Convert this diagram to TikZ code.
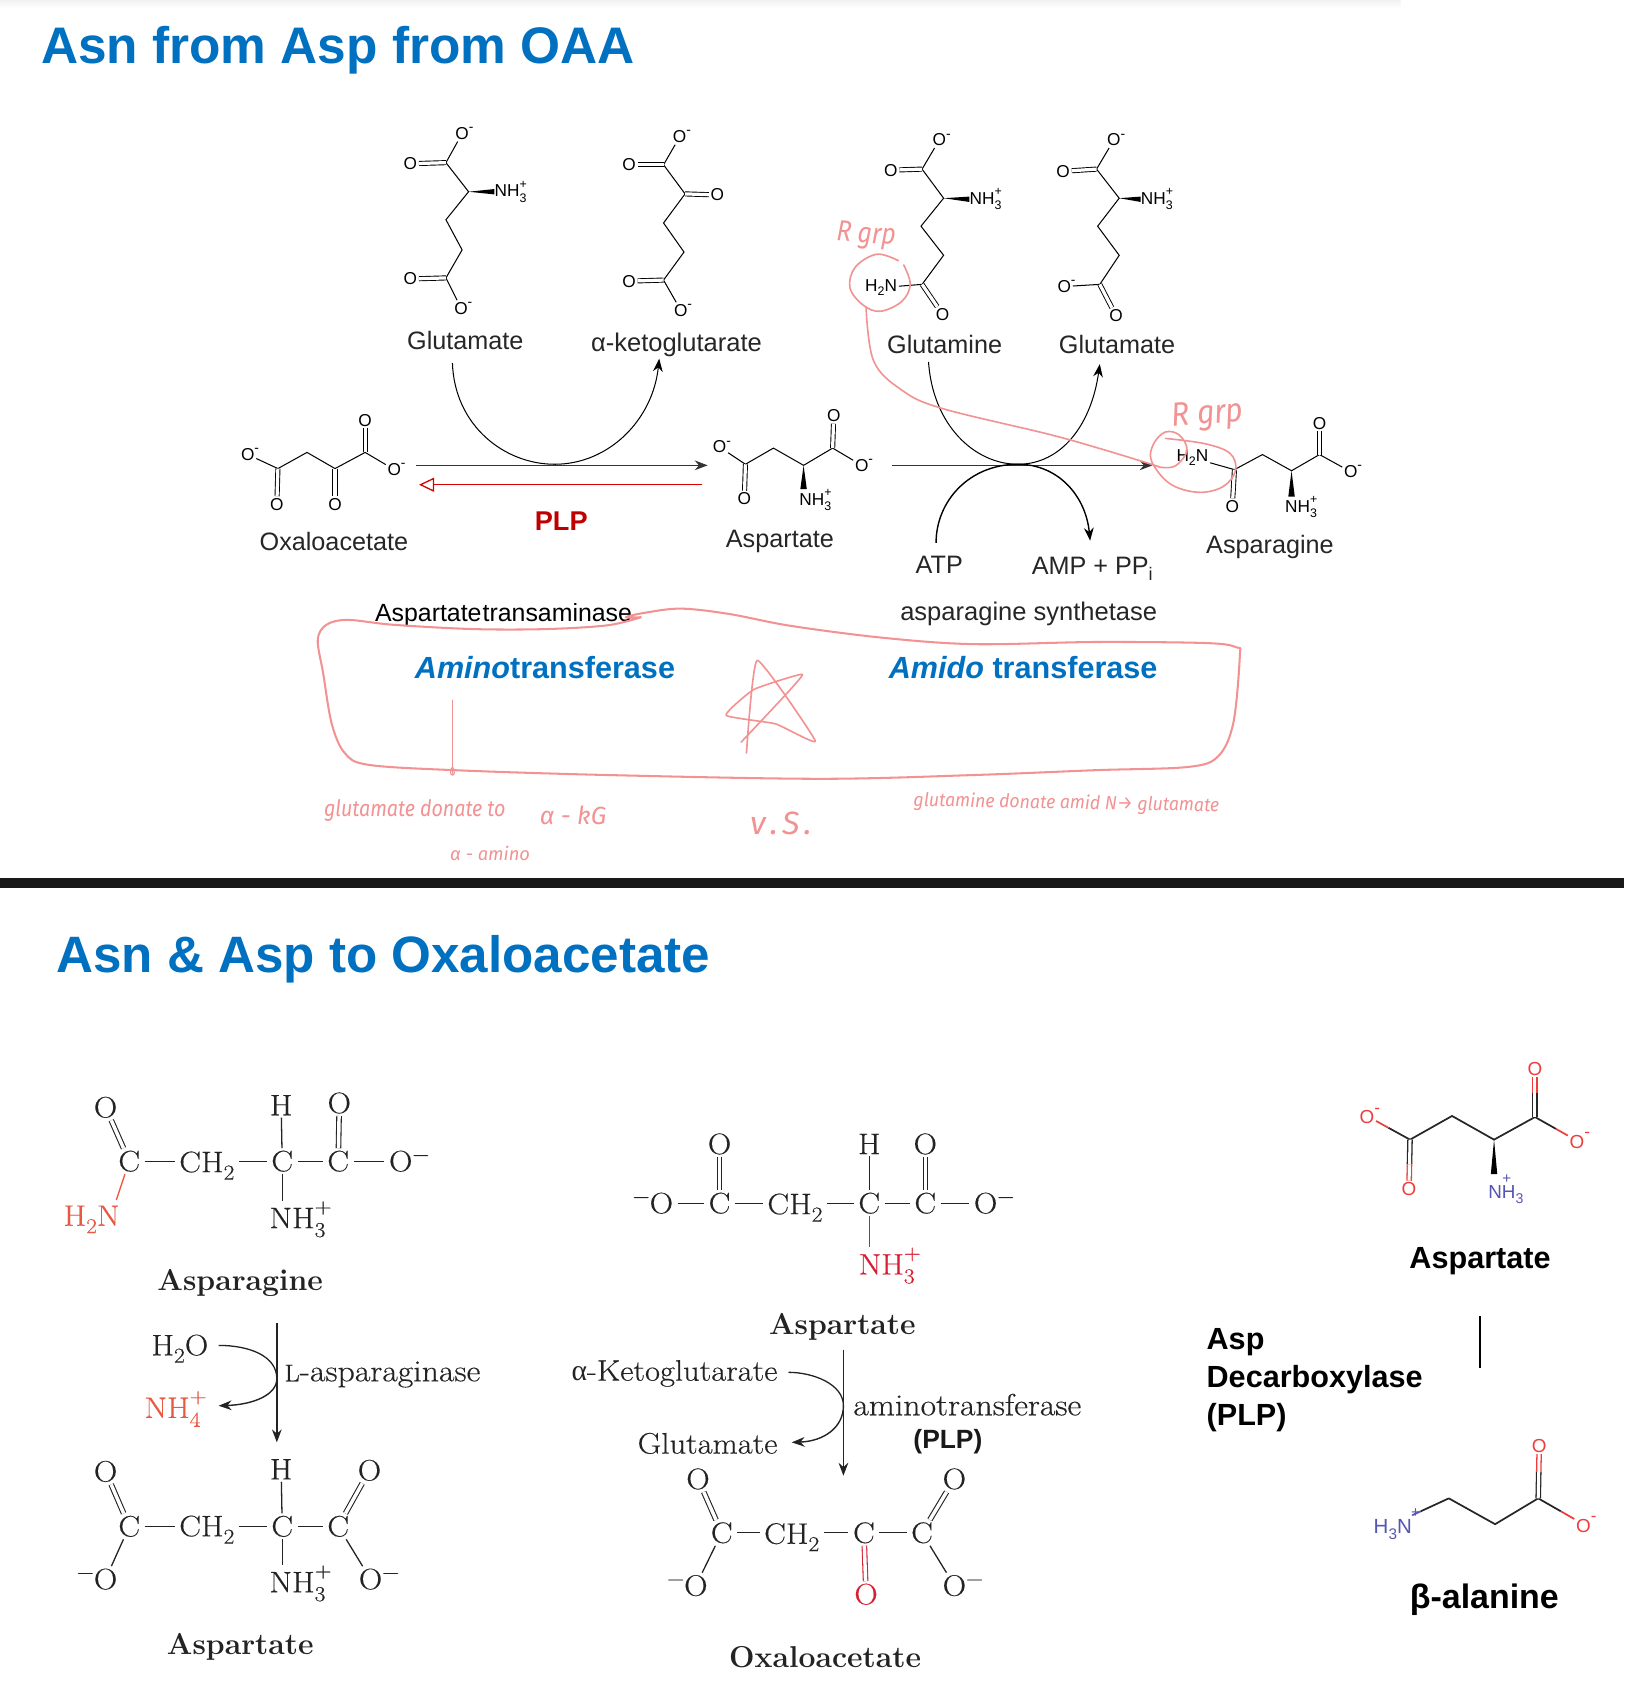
\documentclass[tikz,border=0pt]{standalone}
\usepackage{fontspec}
\setsansfont{Liberation Sans}
\newfontfamily\grk{Liberation Serif}
\newfontfamily\hand{Fira Sans}
\newfontfamily\sch{Latin Modern Roman}[FakeStretch=1.1,FakeBold=0.35]
\usetikzlibrary{arrows.meta,calc,shapes.geometric}
\definecolor{blueT}{RGB}{0,112,192}
\definecolor{darkred}{RGB}{192,0,0}
\definecolor{pinkH}{RGB}{242,146,146}
\definecolor{redA}{RGB}{232,88,66}
\definecolor{redB}{RGB}{214,30,50}
\definecolor{redS}{RGB}{240,60,60}
\definecolor{blueS}{RGB}{85,85,180}
\definecolor{ink}{RGB}{35,35,35}
\newcommand\fsz[1]{\fontsize{#1}{#1}\selectfont}
\newcommand\negO{\rlap{\raisebox{.45em}{\scalebox{.8}{-}}}}
\newcommand\susb[2]{\rlap{\raisebox{-.3em}{\scalebox{.72}{#1}}}\raisebox{.5em}{\scalebox{.72}{#2}}}
\newcommand\sbs[1]{\raisebox{-.25em}{\scalebox{.72}{#1}}}
\newcommand\wedgeh[2]{\fill (#1) -- ($(#2)+(0,-2.5)$) -- ($(#2)+(0,2.5)$) -- cycle;}
\newcommand\wedgev[2]{\fill (#1) -- ($(#2)+(-3,0)$) -- ($(#2)+(3,0)$) -- cycle;}
\newcommand\twotone[4]{\draw[#1] (#3) -- ($(#3)!.5!(#4)$);\draw[#1,draw=#2] ($(#3)!.5!(#4)$) -- (#4);}
\newcommand\mnr{\rlap{\raisebox{.35em}{\scalebox{.72}{−}}}}
\newcommand\mnl{\llap{\raisebox{.35em}{\scalebox{.72}{−}}}}
\tikzset{
  sk/.style={font=\sffamily\fsz{16},inner sep=1.5pt},
  skw/.style={sk,anchor=west,inner sep=0pt},
  bd/.style={draw=black,line width=.95pt},
  dbl/.style={draw=black,line width=.85pt,double=white,double distance=3pt},
  lab/.style={font=\sffamily\fsz{23.4},inner sep=0pt,text=black!85},
  title/.style={font=\sffamily\bfseries\fsz{47.7},text=blueT,anchor=base west,inner sep=0pt},
  amido/.style={font=\sffamily\bfseries\fsz{28.4},text=blueT,inner sep=0pt,anchor=base west},
  curv/.style={draw=black,line width=.95pt},
  arr/.style={-{Stealth[length=12pt,width=9pt]}},
  pk/.style={draw=pinkH,line width=1.9pt,line cap=round,line join=round},
  pkm/.style={draw=pinkH,line width=1.5pt,line cap=round,line join=round},
  pkthin/.style={draw=pinkH,line width=1.1pt,line cap=round},
  hw/.style={font=\hand\itshape,text=pinkH,inner sep=0pt},
  atm/.style={font=\sch\fsz{27.5},text=ink,inner xsep=4pt,inner ysep=2pt},
  atw/.style={atm,anchor=west,inner sep=0pt},
  bb/.style={draw=ink,line width=1.2pt},
  bdb/.style={draw=ink,line width=1pt,double=white,double distance=3.2pt},
  nm/.style={font=\rmfamily\bfseries\fsz{28},text=ink,inner sep=0pt},
  txt/.style={font=\sch\fsz{27.5},text=ink,inner sep=0pt},
  arrb/.style={draw=ink,line width=1.3pt,-{Stealth[length=12pt,width=9pt]}},
  bold/.style={font=\sffamily\bfseries\fsz{28.4},text=black,inner sep=0pt},
  sr/.style={font=\sffamily\fsz{17.5},text=redS,inner sep=1.5pt},
  sb/.style={font=\sffamily\fsz{17.5},text=blueS,inner sep=0pt},
  sbl/.style={draw=black!85,line width=1.6pt},
  sdb/.style={draw=black!85,line width=1.2pt,double=white,double distance=2.8pt},
}
\begin{document}
\begin{tikzpicture}[x=1pt,y=-1pt]
\useasboundingbox (0,0) rectangle (1508,1568);
\fill[white] (0,0) rectangle (1508,1568);
\shade[top color=black!5,bottom color=white] (0,0) rectangle (1300,8);
\fill[black!90] (0,815) rectangle (1508,824);
\node[title] (t1) at (38,59) {Asn from Asp from OAA};
\node[title,font=\sffamily\bfseries\fsz{47.5}] (t2) at (52,903) {Asn \& Asp to Oxaloacetate};

% ---- Glutamate 1
\node[sk] (gO1) at (429,124) {O\negO};
\node[sk] (gO2) at (381,152) {O};
\node[sk] (gO3) at (381,259) {O};
\node[sk] (gO4) at (428,286) {O\negO};
\node[skw] (gN) at (459,178) {NH\susb{3}{+}};
\coordinate (gC1) at (414,151);
\coordinate (gA) at (435,178);
\coordinate (gB) at (414,204);
\coordinate (gG) at (429,232);
\coordinate (gC5) at (414,258);
\draw[bd] (gO1)--(gC1)--(gA)--(gB)--(gG)--(gC5)--(gO4);
\draw[dbl] (gO2)--(gC1);
\draw[dbl] (gO3)--(gC5);
\wedgeh{gA}{gN.west}
\node[lab] (gL) at (432,316) {Glutamate};

% ---- alpha-ketoglutarate
\node[sk] (kO1) at (631,127) {O\negO};
\node[sk] (kO2) at (584,153) {O};
\node[sk] (kO5) at (666,181) {O};
\node[sk] (kO3) at (584,261) {O};
\node[sk] (kO4) at (632,288) {O\negO};
\coordinate (kC1) at (616,153);
\coordinate (kA) at (636,180);
\coordinate (kB) at (616,207);
\coordinate (kG) at (635,234);
\coordinate (kC5) at (616,260);
\draw[bd] (kO1)--(kC1)--(kA)--(kB)--(kG)--(kC5)--(kO4);
\draw[dbl] (kO2)--(kC1);
\draw[dbl] (kO3)--(kC5);
\draw[dbl] (kA)--(kO5);
\node[lab,font=\sffamily\fsz{23.7}] (kL) at (628,320) {α-ketoglutarate};

% ---- Glutamine
\node[sk] (qO1) at (872,130) {O\negO};
\node[sk] (qO2) at (827,158) {O};
\node[sk] (qO3) at (875,292) {O};
\node[sk] (qN2) at (818,267) {H\sbs{2}N};
\node[skw] (qN) at (900,185) {NH\susb{3}{+}};
\coordinate (qC1) at (856,157);
\coordinate (qA) at (876,184);
\coordinate (qB) at (855,210);
\coordinate (qG) at (876,237);
\coordinate (qC5) at (856,264);
\draw[bd] (qO1)--(qC1)--(qA)--(qB)--(qG)--(qC5)--(qN2);
\draw[dbl] (qO2)--(qC1);
\draw[dbl] (qC5)--(qO3);
\wedgeh{qA}{qN.west}
\node[lab] (qL) at (877,320) {Glutamine};

% ---- Glutamate 2
\node[sk] (eO1) at (1034,130) {O\negO};
\node[sk] (eO2) at (987,159) {O};
\node[sk] (eO3) at (988,266) {O\negO};
\node[sk] (eO4) at (1036,293) {O};
\node[skw] (eN) at (1059,185) {NH\susb{3}{+}};
\coordinate (eC1) at (1018,157);
\coordinate (eA) at (1039,184);
\coordinate (eB) at (1019,210);
\coordinate (eG) at (1039,237);
\coordinate (eC5) at (1021,264);
\draw[bd] (eO1)--(eC1)--(eA)--(eB)--(eG)--(eC5)--(eO3);
\draw[dbl] (eO2)--(eC1);
\draw[dbl] (eC5)--(eO4);
\wedgeh{eA}{eN.west}
\node[lab] (eL) at (1037,320) {Glutamate};

% ---- Oxaloacetate (top)
\node[sk] (oO1) at (230,422) {O\negO};
\node[sk] (oO2) at (257,468) {O};
\node[sk] (oO3) at (311,468) {O};
\node[sk] (oO4) at (339,390) {O};
\node[sk] (oO5) at (366,436) {O\negO};
\coordinate (oC1) at (258,435);
\coordinate (oB) at (285,420);
\coordinate (oC2) at (311,435);
\coordinate (oC3) at (339,420);
\draw[bd] (oO1)--(oC1)--(oB)--(oC2)--(oC3)--(oO5);
\draw[dbl] (oC1)--(oO2);
\draw[dbl] (oC2)--(oO3);
\draw[dbl] (oC3)--(oO4);
\node[lab] (oL) at (310,503) {Oxaloacetate};

% ---- Aspartate (top)
\node[sk] (aO1) at (668,415) {O\negO};
\node[sk] (aO2) at (691,463) {O};
\node[sk] (aO3) at (774,386) {O};
\node[sk] (aO4) at (800,432) {O\negO};
\node[sk,inner sep=0pt] (aN) at (757,464) {NH\susb{3}{+}};
\coordinate (aC1) at (692,431);
\coordinate (aB) at (718,416);
\coordinate (aA) at (746,432);
\coordinate (aC2) at (773,416);
\draw[bd] (aO1)--(aC1)--(aB)--(aA)--(aC2)--(aO4);
\draw[dbl] (aC1)--(aO2);
\draw[dbl] (aC2)--(aO3);
\wedgev{aA}{aA |- aN.north}
\node[lab] (aL) at (724,503) {Aspartate};

% ---- Asparagine (top)
\node[sk] (nN2) at (1107,425) {H\sbs{2}N};
\node[sk] (nO1) at (1144,470) {O};
\node[sk] (nO2) at (1225,393) {O};
\node[sk] (nO3) at (1254,438) {O\negO};
\node[sk,inner sep=0pt] (nN) at (1208,471) {NH\susb{3}{+}};
\coordinate (nC1) at (1146,436);
\coordinate (nB) at (1172,422);
\coordinate (nA) at (1199,437);
\coordinate (nC2) at (1225,422);
\draw[bd] (nN2)--(nC1)--(nB)--(nA)--(nC2)--(nO3);
\draw[dbl] (nC1)--(nO1);
\draw[dbl] (nC2)--(nO2);
\wedgev{nA}{nA |- nN.north}
\node[lab] (nL) at (1179,508) {Asparagine};

% ---- reaction arrows (top)
\coordinate (r1s) at (386,432);
\coordinate (r1e) at (657,432);
\coordinate (r2s) at (652,450);
\coordinate (r2e) at (389,450);
\coordinate (m1) at (515,431);
\coordinate (c1s) at (420,337);
\coordinate (c1e) at (612,333);
\draw[draw=black!80,line width=1.2pt,arr] (r1s)--(r1e);
\draw[draw=red!85!black,line width=1.2pt,-{Triangle[open,fill=white,length=14pt,width=13pt]}] (r2s)--(r2e);
\draw[curv] (c1s) .. controls (422,395) and (468,431) .. (m1);
\draw[curv,arr] (m1) .. controls (565,431) and (606,390) .. (c1e);
\node[font=\sffamily\bfseries\fsz{25.2},text=darkred,inner sep=0pt] (plp) at (521,484) {PLP};

\coordinate (r3s) at (828,432);
\coordinate (r3e) at (1070,432);
\coordinate (m2) at (945,431);
\coordinate (c2s) at (862,336);
\coordinate (c2e) at (1021,338);
\coordinate (c3s) at (869,504);
\coordinate (c3e) at (1012,502);
\draw[draw=black!80,line width=1.2pt,arr] (r3s)--(r3e);
\draw[curv] (c2s) .. controls (866,395) and (905,431) .. (m2);
\draw[curv,arr] (m2) .. controls (985,431) and (1013,395) .. (c2e);
\draw[curv,line width=1.3pt] (c3s) .. controls (869,465) and (900,431) .. (m2);
\draw[curv,line width=1.3pt,arr] (m2) .. controls (982,431) and (1008,460) .. (c3e);
\node[lab] (atp) at (872,524) {ATP};
\node[lab] (amp) at (1014,528) {AMP + PP\sbs{i}};
\node[lab,font=\sffamily\fsz{23.1},text=black,anchor=base west] (ast) at (348,577) {Aspartate\hspace{1pt}transaminase};
\node[lab,font=\sffamily\fsz{23.7},anchor=base] (ass) at (955,576) {asparagine synthetase};
\node[amido] (am1) at (385,630) {\textit{Amino}transferase};
\node[amido] (am2) at (825,630) {\textit{Amido} transferase};

% ---- handwriting
\draw[pk] plot[smooth,tension=.55] coordinates {(595,573)(564,580.5)(507,584)(439,584)(365,580)(323,575.5)(303,580)(295,594)(300,625)(308,672)(320,699)(342,710)(422,715)(564,719.5)(762,723)(904,719.5)(1017,715)(1103,712)(1131,702)(1145,671)(1151,609)(1148,601)(1120,597)(1017,596)(904,598)(819,592)(734,581)(677,570)(632,565)(598,569)(581,573)(595,573)};
\draw[pkm] plot[smooth,tension=.6] coordinates {(834,242)(814,236)(794,248)(789,267)(801,283)(817,289)(837,280)(845,264)(839,246)};
\draw[pkm] plot[smooth,tension=.6] coordinates {(804,285)(811,335)(837,362)(874,379)(973,403)(1023,417)(1069,431)(1079,434)(1092,432)(1102,418)(1095,404)(1082,401)(1071,412)(1069,428)(1086,449)(1112,457)(1135,452)(1147,437)(1142,421)(1119,412)(1082,407)};
\draw[pkm] plot[smooth,tension=.25] coordinates {(693,699)(703,613)(757,688)(720,672)(674,664)(700,640)(745,626)(720,655)(688,689)};
\draw[pkthin] (420,650) -- (420,718);
\draw[pkthin] (420,712) .. controls (414,722) and (426,722) .. (420,712);
\node[hw,font=\hand\itshape\fsz{27},rotate=-4] (h1) at (804,219) {\scalebox{.85}[1]{R grp}};
\node[hw,font=\hand\itshape\fsz{31},rotate=5] (h2) at (1121,386) {\scalebox{.9}[1]{R grp}};
\node[hw,font=\hand\itshape\fsz{21}] (h3) at (385,752) {\scalebox{.87}[1]{glutamate donate to}};
\node[hw,font=\hand\itshape\fsz{23}] (h4) at (532,757) {α - kG};
\node[hw,font=\hand\itshape\fsz{17}] (h5) at (455,792) {α - amino};
\node[hw,font=\hand\itshape\fsz{30}] (h6) at (725,764) {v\hspace{4pt}.\hspace{4pt}S\hspace{4pt}.};
\node[hw,font=\hand\itshape\fsz{17.5},rotate=-1] (h7) at (990,746) {\scalebox{.94}[1]{glutamine donate amid N→ glutamate}};

% ---- Asparagine (bottom left)
\node[atm] (bO1) at (98,1028) {O};
\node[atm] (bC1) at (120,1078) {C};
\node[atm] (bCH) at (192,1082) {CH\sbs{2}};
\node[atm] (bCa) at (262,1078) {C};
\node[atm] (bC2) at (314,1078) {C};
\node[atm] (bOm) at (372,1078) {O\mnr};
\node[atm] (bH) at (261,1026) {H};
\node[atm] (bO2) at (315,1024) {O};
\node[atm,text=redA] (bN2) at (85,1132) {H\sbs{2}N};
\node[atw] (bN) at (250,1132) {NH\susb{3}{+}};
\coordinate (bNt) at (108,1114);
\draw[bb] (bC1)--(bCH.west |- bC1);
\draw[bb] (bCH.east |- bCa)--(bCa)--(bC2)--(bOm);
\draw[bb] (bH)--(bCa);
\draw[bb] (bCa)--(bCa |- bN.north);
\draw[bdb] (bO1)--(bC1);
\draw[bdb] (bO2)--(bC2);
\draw[draw=redA,line width=1.2pt] (bC1)--(bNt);
\node[nm] (bL) at (223,1191) {Asparagine};

\coordinate (b1s) at (257,1228);
\coordinate (b1e) at (257,1339);
\draw[arrb] (b1s)--(b1e);
\node[txt] (bW) at (167,1252) {H\sbs{2}O};
\node[txt,text=redA] (bA) at (163,1308) {NH\susb{4}{+}};
\coordinate (bm) at (257,1280);
\coordinate (bWe) at (203,1249);
\draw[draw=ink,line width=1.2pt] (bWe) .. controls (230,1249) and (257,1258) .. (bm);
\coordinate (bAe) at (203,1305);
\draw[arrb] (bm) .. controls (257,1295) and (235,1304) .. (bAe);
\node[txt,font=\sch\fsz{28.5},anchor=west] (bE) at (264,1276) {{\scalebox{.78}{L}}-asparaginase};

% ---- Aspartate (bottom left)
\node[atm] (cO1) at (98,1366) {O};
\node[atm] (cC1) at (120,1417) {C};
\node[atm] (cCH) at (192,1420) {CH\sbs{2}};
\node[atm] (cCa) at (262,1417) {C};
\node[atm] (cC2) at (314,1417) {C};
\node[atm] (cH) at (261,1364) {H};
\node[atm] (cO2) at (343,1365) {O};
\node[atm] (cO3) at (98,1466) {\mnl O};
\node[atm] (cO4) at (344,1466) {O\mnr};
\node[atw] (cN) at (250,1470) {NH\susb{3}{+}};
\draw[bb] (cC1)--(cCH.west |- cC1);
\draw[bb] (cCH.east |- cCa)--(cCa)--(cC2);
\draw[bb] (cH)--(cCa);
\draw[bb] (cCa)--(cCa |- cN.north);
\draw[bdb] (cO1)--(cC1);
\draw[bdb] (cO2)--(cC2);
\draw[bb] (cC1)--(cO3);
\draw[bb] (cC2)--(cO4);
\node[nm] (cL) at (223,1529) {Aspartate};

% ---- Aspartate (middle)
\node[atm] (dOa) at (614,1117) {\mnl O};
\node[atm] (dC1) at (668,1117) {C};
\node[atm] (dCH) at (738,1121) {CH\sbs{2}};
\node[atm] (dCa) at (807,1117) {C};
\node[atm] (dC2) at (859,1117) {C};
\node[atm] (dOb) at (915,1117) {O\mnr};
\node[atm] (dO1) at (668,1062) {O};
\node[atm] (dH) at (807,1062) {H};
\node[atm] (dO2) at (859,1062) {O};
\node[atw,text=redB] (dN) at (797,1175) {NH\susb{3}{+}};
\draw[bb] (dOa)--(dC1);
\draw[bb] (dC1) -- (dCH.west |- dC1);
\draw[bb] (dCH.east |- dCa) -- (dCa)--(dC2)--(dOb);
\draw[bdb] (dO1)--(dC1);
\draw[bdb] (dO2)--(dC2);
\draw[bb] (dH)--(dCa);
\draw[draw=redB,line width=1.2pt] (dCa)--(dCa |- dN.north);
\node[nm] (dL) at (782,1232) {Aspartate};

\coordinate (d1s) at (783,1253);
\coordinate (d1e) at (783,1370);
\draw[arrb] (d1s)--(d1e);
\node[txt,anchor=east] (dK) at (722,1275) {{\grk α}-Ketoglutarate};
\node[txt,anchor=east] (dG) at (722,1340) {Glutamate};
\coordinate (dm) at (783,1305);
\coordinate (dKe) at (732,1274);
\coordinate (dGe) at (735,1339);
\draw[draw=ink,line width=1.2pt] (dKe) .. controls (755,1274) and (783,1285) .. (dm);
\draw[arrb] (dm) .. controls (783,1325) and (765,1338) .. (dGe);
\node[txt,font=\sch\fsz{28.5},anchor=west] (dE) at (792,1304) {aminotransferase};
\node[font=\sffamily\bfseries\fsz{24.5},text=black!90,inner sep=0pt] (dP) at (880,1338) {(PLP)};

% ---- Oxaloacetate (middle)
\node[atm] (fO1) at (648,1373) {O};
\node[atm] (fC1) at (670,1423) {C};
\node[atm] (fCH) at (735,1427) {CH\sbs{2}};
\node[atm] (fCo) at (802,1423) {C};
\node[atm] (fC2) at (856,1423) {C};
\node[atm] (fO2) at (886,1373) {O};
\node[atm] (fO3) at (646,1472) {\mnl O};
\node[atm,text=redB] (fO4) at (804,1480) {O};
\node[atm] (fO5) at (886,1472) {O\mnr};
\draw[bb] (fC1)--(fCH.west |- fC1);
\draw[bb] (fCH.east |- fCo)--(fCo)--(fC2);
\draw[bdb] (fO1)--(fC1);
\draw[bdb] (fO2)--(fC2);
\draw[bdb,draw=redB] (fCo)--(fO4);
\draw[bb] (fC1)--(fO3);
\draw[bb] (fC2)--(fO5);
\node[nm] (fL) at (766,1538) {Oxaloacetate};

% ---- Aspartate (right)
\node[sr] (sO1) at (1269,1036) {O\rlap{\raisebox{.5em}{\scalebox{.9}{-}}}};
\node[sr] (sO2) at (1308,1104) {O};
\node[sr] (sO3) at (1425,992) {O};
\node[sr] (sO4) at (1464,1059) {O\rlap{\raisebox{.6em}{\scalebox{.9}{-}}}};
\node[sb] (sN) at (1398,1104) {\rlap{\hspace{13pt}\raisebox{.8em}{\scalebox{.8}{+}}}NH\raisebox{-.3em}{\scalebox{.75}{3}}};
\coordinate (sC1) at (1309,1058);
\coordinate (sB) at (1348,1036);
\coordinate (sA) at (1387,1058);
\coordinate (sC2) at (1425,1037);
\draw[sbl] (sC1)--(sB)--(sA)--(sC2);
\twotone{sbl}{redS}{sC1}{sO1}
\twotone{sbl}{redS}{sC2}{sO4}
\twotone{sdb}{redS}{sC1}{sO2}
\twotone{sdb}{redS}{sC2}{sO3}
\wedgev{sA}{sA |- sN.north}
\node[bold] (sL) at (1374,1171) {Aspartate};
\node[bold,anchor=base west] (sD1) at (1120,1253) {Asp};
\node[bold,anchor=base west] (sD2) at (1120,1288) {Decarboxylase};
\node[bold,anchor=base west] (sD3) at (1120,1323) {(PLP)};
\coordinate (sVs) at (1374,1222);
\coordinate (sVe) at (1374,1270);
\draw[draw=black,line width=2.6pt] (sVs)--(sVe);

% ---- beta-alanine
\node[sb,font=\sffamily\fsz{19}] (tN) at (1293,1415) {H\raisebox{-.3em}{\scalebox{.75}{3}}N\rlap{\raisebox{.8em}{\scalebox{.75}{\hspace{-1pt}+}}}};
\node[sr] (tO1) at (1429,1342) {O};
\node[sr] (tO2) at (1470,1415) {O\rlap{\raisebox{.6em}{\scalebox{.9}{-}}}};
\coordinate (tB) at (1345,1391);
\coordinate (tG) at (1388,1415);
\coordinate (tC) at (1428,1391);
\draw[sbl] (tB)--(tG)--(tC);
\twotone{sbl}{redS}{tC}{tO2}
\twotone{sdb}{redS}{tC}{tO1}
\twotone{sbl}{blueS}{tB}{tN}
\node[bold,font=\sffamily\bfseries\fsz{31.5}] (tL) at (1378,1485) {β-alanine};
\end{tikzpicture}
\end{document}
